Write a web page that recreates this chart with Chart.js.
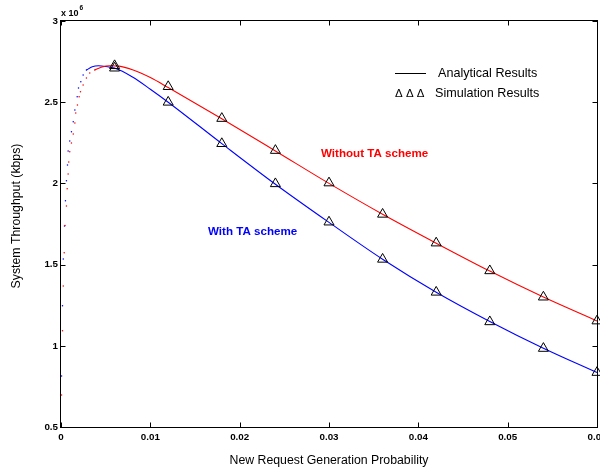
<!DOCTYPE html>
<html><head><meta charset="utf-8">
<script src="https://cdn.jsdelivr.net/npm/chart.js@4/dist/chart.umd.min.js"></script>
<style>html,body{margin:0;padding:0;background:#fff}#wrap{width:600px;height:472px;position:relative}</style>
</head><body><div id="wrap"><canvas id="c" width="600" height="472"></canvas></div>
<script>
// Tick values (y in units of 10^6 kbps)
const xTicks = [0, 0.01, 0.02, 0.03, 0.04, 0.05, 0.06];
const yTicks = [0.5, 1, 1.5, 2, 2.5, 3];

// Simulation results (triangles)
const simX = [0.006, 0.012, 0.018, 0.024, 0.030, 0.036, 0.042, 0.048, 0.054, 0.060];
const simWithoutTA = [2.725, 2.596, 2.40, 2.203, 2.003, 1.81, 1.633, 1.462, 1.30, 1.153];
const simWithTA    = [2.71, 2.50, 2.245, 1.998, 1.762, 1.533, 1.33, 1.148, 0.984, 0.836];

// Analytical results: steep sampled part (appears dotted)
const dotXWithoutTA = [0.00006, 0.00017, 0.00025, 0.00036, 0.00045, 0.00061, 0.00069, 0.0008, 0.00087, 0.00098, 0.00117, 0.00137, 0.00155, 0.00165, 0.00184, 0.00203, 0.00218, 0.00248, 0.00285, 0.00322, 0.00378];
const dotWithoutTA  = [0.697, 1.093, 1.368, 1.573, 1.74, 1.861, 1.967, 2.058, 2.132, 2.195, 2.249, 2.304, 2.372, 2.433, 2.483, 2.534, 2.565, 2.606, 2.649, 2.68, 2.698];
const dotXWithTA = [0.00006, 0.00017, 0.00025, 0.00039, 0.0005, 0.00061, 0.00073, 0.0008, 0.00098, 0.00117, 0.00137, 0.00155, 0.00181, 0.00196, 0.00222, 0.00248, 0.00285];
const dotWithTA  = [0.814, 1.247, 1.534, 1.738, 1.893, 2.017, 2.113, 2.2, 2.261, 2.318, 2.38, 2.452, 2.534, 2.587, 2.626, 2.667, 2.698];

// Analytical results: smooth part
const lineXWithoutTA = [0.00378, 0.0045, 0.0055, 0.0065, 0.008, 0.010, 0.012, 0.018, 0.024, 0.030, 0.036, 0.042, 0.048, 0.054, 0.060];
const lineWithoutTA  = [2.698, 2.715, 2.724, 2.722, 2.70, 2.652, 2.59, 2.398, 2.20, 2.00, 1.81, 1.632, 1.46, 1.30, 1.153];
const lineXWithTA = [0.00285, 0.0035, 0.0042, 0.005, 0.006, 0.008, 0.010, 0.012, 0.018, 0.024, 0.030, 0.036, 0.042, 0.048, 0.054, 0.060];
const lineWithTA  = [2.698, 2.718, 2.724, 2.72, 2.71, 2.655, 2.58, 2.50, 2.245, 1.995, 1.76, 1.533, 1.33, 1.15, 0.985, 0.835];

const zip = (xs, ys) => xs.map((x, i) => ({x, y: ys[i]}));
const FONT = "'Liberation Sans', Arial, Helvetica, sans-serif";
const RED = '#ff0000', BLUE = '#0000ff';

const decor = {
  id: 'decor',
  afterDraw(chart) {
    const {ctx, chartArea: a, scales: {x, y}} = chart;
    ctx.save();
    ctx.strokeStyle = '#000';
    ctx.lineWidth = 1;
    const L = Math.round(a.left) - 0.5, R = Math.round(a.right) + 0.5;
    const T = Math.round(a.top) - 0.5, B = Math.round(a.bottom) + 0.5;
    ctx.strokeRect(L, T, R - L, B - T);
    ctx.beginPath();
    xTicks.forEach(v => {
      const px = Math.round(x.getPixelForValue(v)) + 0.5;
      ctx.moveTo(px, B); ctx.lineTo(px, B - 5);
      ctx.moveTo(px, T); ctx.lineTo(px, T + 5);
    });
    yTicks.forEach(v => {
      const py = Math.round(y.getPixelForValue(v)) + 0.5;
      ctx.moveTo(L, py); ctx.lineTo(L + 5, py);
      ctx.moveTo(R, py); ctx.lineTo(R - 5, py);
    });
    ctx.stroke();

    ctx.fillStyle = '#000';
    // multiplier
    ctx.textBaseline = 'middle';
    ctx.textAlign = 'left';
    ctx.font = 'bold 9px ' + FONT;
    ctx.fillText('x 10', 61, 13.5);
    const w = ctx.measureText('x 10').width;
    ctx.font = 'bold 6.5px ' + FONT;
    ctx.fillText('6', 61 + w + 1, 8.5);

    // axis titles
    ctx.font = '12.3px ' + FONT;
    ctx.textAlign = 'center';
    ctx.fillText('New Request Generation Probability', (a.left + a.right) / 2, 461);
    ctx.save();
    ctx.translate(17, 216);
    ctx.rotate(-Math.PI / 2);
    ctx.fillText('System Throughput (kbps)', 0, 0);
    ctx.restore();

    // legend
    ctx.beginPath();
    ctx.moveTo(395, 73.5); ctx.lineTo(426, 73.5);
    ctx.stroke();
    ctx.textAlign = 'left';
    ctx.font = '12.6px ' + FONT;
    ctx.fillText('Analytical Results', 438, 74);
    ctx.fillText('Simulation Results', 435, 94);
    ctx.font = '11.5px ' + FONT;
    ctx.fillText('\u0394 \u0394 \u0394', 395, 94);

    // annotations
    ctx.font = 'bold 11.6px ' + FONT;
    ctx.fillStyle = RED;
    ctx.fillText('Without TA scheme', 321, 154);
    ctx.fillStyle = BLUE;
    ctx.fillText('With TA scheme', 208, 232);
    ctx.restore();
  }
};

const tri = (data) => ({
  data, showLine: false, pointStyle: 'triangle', pointRadius: 5.8, pointHoverRadius: 5.8,
  borderColor: '#000', backgroundColor: 'rgba(0,0,0,0)', borderWidth: 1, clip: false
});
const dots = (data, color) => ({
  data, showLine: false, pointRadius: 0.75, pointHoverRadius: 0.75,
  backgroundColor: color, borderColor: color, borderWidth: 0, clip: false
});
const line = (data, color) => ({
  data, showLine: true, pointRadius: 0, borderColor: color, borderWidth: 1.1,
  cubicInterpolationMode: 'monotone', clip: false, fill: false
});

new Chart(document.getElementById('c'), {
  type: 'scatter',
  data: {
    datasets: [
      Object.assign(tri(zip(simX, simWithoutTA)), {label: 'Simulation Without TA'}),
      Object.assign(tri(zip(simX, simWithTA)), {label: 'Simulation With TA'}),
      Object.assign(line(zip(lineXWithoutTA, lineWithoutTA), RED), {label: 'Without TA scheme'}),
      Object.assign(line(zip(lineXWithTA, lineWithTA), BLUE), {label: 'With TA scheme'}),
      Object.assign(dots(zip(dotXWithoutTA, dotWithoutTA), RED), {label: 'Without TA (steep)'}),
      Object.assign(dots(zip(dotXWithTA, dotWithTA), BLUE), {label: 'With TA (steep)'})
    ]
  },
  options: {
    responsive: false,
    animation: false,
    devicePixelRatio: 1,
    layout: {autoPadding: false, padding: {top: 21, right: 3, left: 0, bottom: 0}},
    plugins: {legend: {display: false}, tooltip: {enabled: false}},
    scales: {
      x: {
        type: 'linear', min: 0, max: 0.06,
        grid: {display: false, drawTicks: false},
        border: {display: false},
        afterBuildTicks: s => { s.ticks = xTicks.map(v => ({value: v})); },
        afterFit: s => { s.height = 45; s.paddingLeft = 0; s.paddingRight = 0; },
        ticks: {
          autoSkip: false, maxRotation: 0, padding: 4, color: '#000',
          font: {family: FONT, size: 9.8, weight: 'bold'},
          callback: v => String(v)
        }
      },
      y: {
        type: 'linear', min: 0.5, max: 3,
        grid: {display: false, drawTicks: false},
        border: {display: false},
        afterBuildTicks: s => { s.ticks = yTicks.map(v => ({value: v})); },
        afterFit: s => { s.width = 61; s.paddingTop = 0; s.paddingBottom = 0; },
        ticks: {
          autoSkip: false, padding: 3, color: '#000',
          font: {family: FONT, size: 9.8, weight: 'bold'},
          callback: v => String(v)
        }
      }
    }
  },
  plugins: [decor]
});
</script>
</body></html>
